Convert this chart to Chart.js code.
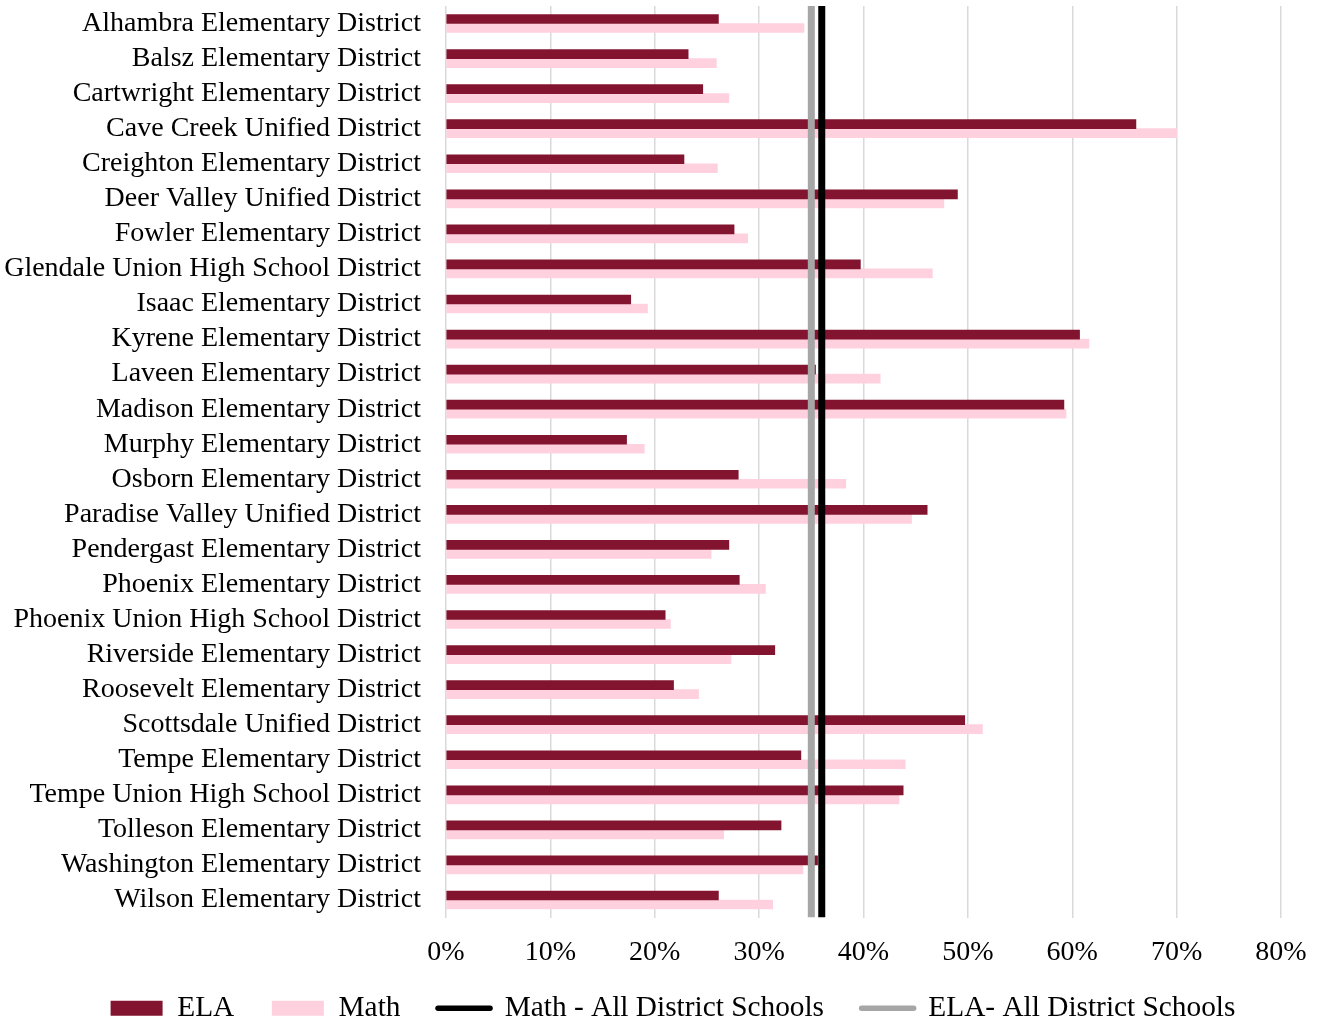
<!DOCTYPE html>
<html>
<head>
<meta charset="utf-8">
<script src="https://cdn.jsdelivr.net/npm/chart.js@4.4.1/dist/chart.umd.min.js"></script>
<style>
  html, body { margin: 0; padding: 0; background: #ffffff; }
  #wrap { width: 1320px; height: 1022px; position: relative; }
</style>
</head>
<body>
<div id="wrap"><canvas id="chart"></canvas></div>
<script>
// ---- Data ----
const categories = [
  'Alhambra Elementary District',
  'Balsz Elementary District',
  'Cartwright Elementary District',
  'Cave Creek Unified District',
  'Creighton Elementary District',
  'Deer Valley Unified District',
  'Fowler Elementary District',
  'Glendale Union High School District',
  'Isaac Elementary District',
  'Kyrene Elementary District',
  'Laveen Elementary District',
  'Madison Elementary District',
  'Murphy Elementary District',
  'Osborn Elementary District',
  'Paradise Valley Unified District',
  'Pendergast Elementary District',
  'Phoenix Elementary District',
  'Phoenix Union High School District',
  'Riverside Elementary District',
  'Roosevelt Elementary District',
  'Scottsdale Unified District',
  'Tempe Elementary District',
  'Tempe Union High School District',
  'Tolleson Elementary District',
  'Washington Elementary District',
  'Wilson Elementary District'
];
const elaValues = [26.1, 23.2, 24.6, 66.1, 22.8, 49.0, 27.6, 39.7, 17.7, 60.7, 35.4, 59.2, 17.3,
                   28.0, 46.1, 27.1, 28.1, 21.0, 31.5, 21.8, 49.7, 34.0, 43.8, 32.1, 35.6, 26.1];
const mathValues = [34.3, 25.9, 27.1, 70.0, 26.0, 47.7, 28.9, 46.6, 19.3, 61.6, 41.6, 59.4, 19.0,
                    38.3, 44.6, 25.4, 30.6, 21.5, 27.3, 24.2, 51.4, 44.0, 43.4, 26.6, 34.2, 31.3];
const mathAllDistrict = 36;
const elaAllDistrict = 35;
const lineSpan = [0, 1];
const xTickLabels = ['0%', '10%', '20%', '30%', '40%', '50%', '60%', '70%', '80%'];
const seriesNames = ['ELA', 'Math', 'Math - All District Schools', 'ELA- All District Schools'];

// ---- Styles ----
const ELA_COLOR = '#83142F';
const MATH_COLOR = '#FFD1DF';
const MATH_ALL_COLOR = '#000000';
const ELA_ALL_COLOR = '#A6A6A6';
const FONT = "'Liberation Serif', 'Times New Roman', Times, serif";

Chart.defaults.font.family = FONT;
Chart.defaults.font.size = 28;
Chart.defaults.color = '#000000';

const vline = (v) => lineSpan.map(s => ({ x: v, y: s }));

// Nudge the legend row into place (its label padding also sets the
// spacing between items, which makes the box taller than needed).
const legendNudge = {
  id: 'legendNudge',
  afterLayout(chart) {
    const lg = chart.legend;
    if (!lg) return;
    lg.top -= 14; lg.bottom -= 14;
    lg.left += 32.5; lg.right += 32.5;
  }
};

new Chart(document.getElementById('chart'), {
  type: 'bar',
  data: {
    labels: categories,
    datasets: [
      {
        type: 'line', label: seriesNames[2], data: vline(mathAllDistrict),
        xAxisID: 'x', yAxisID: 'yLine', borderColor: MATH_ALL_COLOR, backgroundColor: MATH_ALL_COLOR,
        borderWidth: 7, pointRadius: 0, pointHoverRadius: 0, fill: false, order: 0
      },
      {
        type: 'line', label: seriesNames[3], data: vline(elaAllDistrict),
        xAxisID: 'x', yAxisID: 'yLine', borderColor: ELA_ALL_COLOR, backgroundColor: ELA_ALL_COLOR,
        borderWidth: 7, pointRadius: 0, pointHoverRadius: 0, fill: false, order: 0
      },
      {
        label: seriesNames[0], data: elaValues, xAxisID: 'x', yAxisID: 'y',
        backgroundColor: ELA_COLOR, barThickness: 9, order: 1
      },
      {
        label: seriesNames[1], data: mathValues, xAxisID: 'x', yAxisID: 'y',
        backgroundColor: MATH_COLOR, barThickness: 9, order: 1
      }
    ]
  },
  options: {
    indexAxis: 'y',
    responsive: true,
    maintainAspectRatio: false,
    animation: false,
    devicePixelRatio: 1,
    layout: { padding: { top: 6, left: 0, right: 39, bottom: -24.93 } },
    scales: {
      x: {
        type: 'linear', position: 'bottom', min: 0, max: 80,
        grid: { color: '#D9D9D9', lineWidth: 1.5, drawTicks: false },
        border: { display: false },
        ticks: {
          stepSize: 10, padding: 18.5, font: { size: 28 }, color: '#000000',
          callback: (v, i) => xTickLabels[i]
        },
        afterFit: (scale) => { scale.height = 52.5; scale.paddingLeft = 0; scale.paddingRight = 0; }
      },
      y: {
        type: 'category', position: 'left',
        grid: { display: false, drawTicks: false },
        border: { display: false },
        ticks: { padding: 25, font: { size: 28 }, color: '#000000', autoSkip: false },
        afterFit: (scale) => { scale.width = 446; scale.paddingTop = 0; scale.paddingBottom = 0; }
      },
      yLine: { type: 'linear', display: false, min: 0, max: 1, offset: false, grace: 0 }
    },
    plugins: {
      tooltip: { enabled: false },
      legend: {
        position: 'bottom',
        labels: {
          usePointStyle: true, pointStyleWidth: 52, boxHeight: 15, padding: 37.6,
          font: { size: 29.33 }, color: '#000000',
          generateLabels: () => [
            { text: seriesNames[0], fillStyle: ELA_COLOR, strokeStyle: ELA_COLOR, lineWidth: 0, pointStyle: 'rect', datasetIndex: 2 },
            { text: seriesNames[1], fillStyle: MATH_COLOR, strokeStyle: MATH_COLOR, lineWidth: 0, pointStyle: 'rect', datasetIndex: 3 },
            { text: seriesNames[2], fillStyle: MATH_ALL_COLOR, strokeStyle: MATH_ALL_COLOR, lineWidth: 5.5, lineCap: 'round', pointStyle: 'line', datasetIndex: 0 },
            { text: seriesNames[3], fillStyle: ELA_ALL_COLOR, strokeStyle: ELA_ALL_COLOR, lineWidth: 5.5, lineCap: 'round', pointStyle: 'line', datasetIndex: 1 }
          ]
        }
      }
    }
  },
  plugins: [legendNudge]
});
</script>
</body>
</html>
